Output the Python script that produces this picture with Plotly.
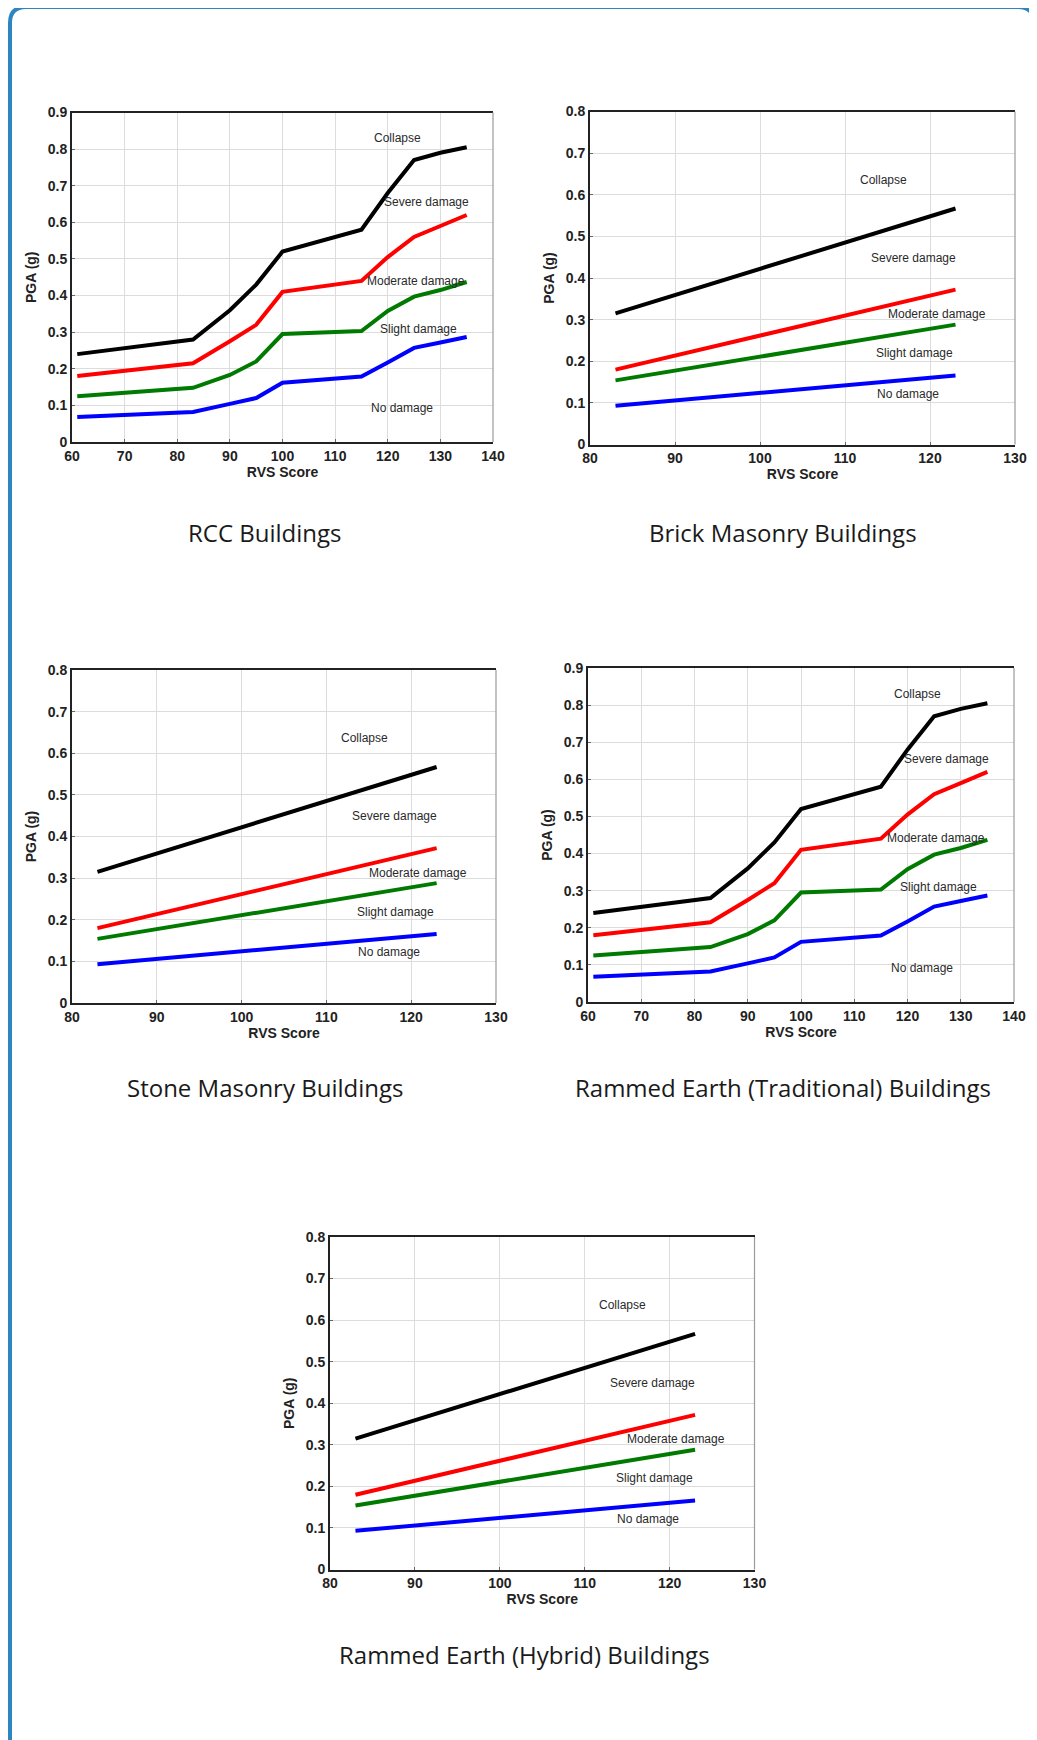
import plotly.graph_objects as go

# The page body has an 8px margin, so the figure is drawn 8px in from the window edge.
WIN_W, WIN_H = 1037, 1740
OFF = 8
W, H = WIN_W - OFF, WIN_H - OFF

# ---------------- data ----------------
# RCC and Rammed Earth (Traditional) buildings
rvs_a = [61, 83, 90, 95, 100, 115, 120, 125, 130, 135]
collapse_a = [0.24, 0.28, 0.36, 0.43, 0.52, 0.58, 0.68, 0.77, 0.79, 0.805]
severe_a = [0.18, 0.215, 0.275, 0.32, 0.41, 0.44, 0.505, 0.56, 0.59, 0.62]
moderate_a = [0.125, 0.148, 0.183, 0.22, 0.295, 0.303, 0.358, 0.397, 0.415, 0.437]
slight_a = [0.068, 0.082, 0.104, 0.12, 0.162, 0.179, 0.217, 0.257, 0.272, 0.287]

# Brick masonry, Stone masonry and Rammed Earth (Hybrid) buildings
rvs_b = [83, 100, 110, 123]
collapse_b = [0.315, 0.422, 0.486, 0.567]
severe_b = [0.18, 0.262, 0.31, 0.372]
moderate_b = [0.154, 0.21, 0.244, 0.288]
slight_b = [0.093, 0.124, 0.142, 0.166]

damage_labels = ["Collapse", "Severe damage", "Moderate damage", "Slight damage", "No damage"]
label_x_a = [121.9, 127.3, 125.4, 125.9, 122.7]
label_y_a = [0.829, 0.655, 0.441, 0.31, 0.092]
label_x_b = [114.5, 118.0, 120.8, 118.2, 117.4]
label_y_b = [0.636, 0.449, 0.313, 0.219, 0.122]

captions = ["RCC Buildings", "Brick Masonry Buildings", "Stone Masonry Buildings",
            "Rammed Earth (Traditional) Buildings", "Rammed Earth (Hybrid) Buildings"]

x_ticks_a = [60, 70, 80, 90, 100, 110, 120, 130, 140]
x_ticks_b = [80, 90, 100, 110, 120, 130]
y_ticks_a = [0, 0.1, 0.2, 0.3, 0.4, 0.5, 0.6, 0.7, 0.8, 0.9]
y_ticks_b = [0, 0.1, 0.2, 0.3, 0.4, 0.5, 0.6, 0.7, 0.8]

x_title = "RVS Score"
y_title = "PGA (g)"

# ---------------- layout helpers ----------------
def px_x(v):
    return (v - OFF) / W

def px_y(v):
    return 1 - (v - OFF) / H

def bold(vals):
    return ["<b>%g</b>" % v for v in vals]

line_colors = ["#000000", "#ff0000", "#007a00", "#0000ff"]

# panel boxes in window pixels: left, right, top, bottom ; caption center
panels = [
    dict(kind="a", box=(72, 493, 112.5, 442), xr=[60, 140], yr=[0, 0.9], cap=(265, 532)),
    dict(kind="b", box=(590, 1015, 111.5, 444.5), xr=[80, 130], yr=[0, 0.8], cap=(783, 532)),
    dict(kind="b", box=(72, 496, 670, 1003), xr=[80, 130], yr=[0, 0.8], cap=(265, 1087)),
    dict(kind="a", box=(588, 1014, 668, 1002), xr=[60, 140], yr=[0, 0.9], cap=(783, 1087)),
    dict(kind="b", box=(330, 754.5, 1237, 1569.5), xr=[80, 130], yr=[0, 0.8], cap=(524, 1654)),
]

fig = go.Figure()
layout = dict(
    width=W, height=H, margin=dict(l=0, r=0, t=0, b=0, pad=0, autoexpand=False),
    paper_bgcolor="white", plot_bgcolor="white", showlegend=False,
    annotations=[], shapes=[],
)

tickfont = dict(family="Liberation Sans, Arial", size=14, color="#222")
titlefont = dict(family="Liberation Sans, Arial", size=14, color="#222")

for i, p in enumerate(panels):
    n = "" if i == 0 else str(i + 1)
    xa, ya = "x" + n, "y" + n
    l, r, t, b = p["box"]
    if p["kind"] == "a":
        xs = rvs_a
        series = [collapse_a, severe_a, moderate_a, slight_a]
        lx, ly = label_x_a, label_y_a
        xt, yt_ = x_ticks_a, y_ticks_a
    else:
        xs = rvs_b
        series = [collapse_b, severe_b, moderate_b, slight_b]
        lx, ly = label_x_b, label_y_b
        xt, yt_ = x_ticks_b, y_ticks_b
    for s, c in zip(series, line_colors):
        fig.add_trace(go.Scatter(x=xs, y=s, mode="lines", xaxis=xa, yaxis=ya,
                                 line=dict(color=c, width=4), hoverinfo="skip"))
    layout["xaxis" + n] = dict(
        domain=[px_x(l), px_x(r)], range=p["xr"], anchor=ya,
        tickmode="array", tickvals=xt, ticktext=bold(xt), automargin=False,
        showgrid=True, gridcolor="#dcdcdc", gridwidth=1, zeroline=False,
        showline=True, linecolor="#222", linewidth=2, mirror=True,
        ticks="inside", ticklen=3, tickcolor="#666",
        tickfont=tickfont, title=dict(text="<b>%s</b>" % x_title, font=titlefont, standoff=3),
    )
    layout["yaxis" + n] = dict(
        domain=[px_y(b), px_y(t)], range=p["yr"], anchor=xa,
        tickmode="array", tickvals=yt_, ticktext=bold(yt_), automargin=False,
        showgrid=True, gridcolor="#dcdcdc", gridwidth=1, zeroline=False,
        showline=True, linecolor="#222", linewidth=2,
        ticks="inside", ticklen=3, tickcolor="#666",
        tickfont=tickfont, title=dict(text="<b>%s</b>" % y_title, font=titlefont, standoff=8),
    )
    # lighter right frame edge
    layout["shapes"].append(dict(type="line", xref="paper", yref="paper",
                                 x0=px_x(r), x1=px_x(r), y0=px_y(b), y1=px_y(t),
                                 line=dict(color="#9a9a9a", width=1.2)))
    for txt, x0, y0 in zip(damage_labels, lx, ly):
        layout["annotations"].append(dict(
            x=x0, y=y0, xref=xa, yref=ya, text=txt, showarrow=False,
            font=dict(family="Liberation Sans, Arial", size=12, color="#2a2a2a"),
            xanchor="center", yanchor="middle"))
    cx, cy = p["cap"]
    layout["annotations"].append(dict(
        x=px_x(cx), y=px_y(cy), xref="paper", yref="paper", text=captions[i],
        showarrow=False, xanchor="center", yanchor="middle",
        font=dict(family="Open Sans, Noto Sans", size=24, color="#1a1a1a")))

# outer blue rounded frame (open at the bottom)
x0, x1, yt, yb, rad = 10, 1034, 7, 1780, 16
rx, ry = rad / W, rad / H
path = (f"M {px_x(x0)},{px_y(yb)} L {px_x(x0)},{px_y(yt) - ry} "
        f"Q {px_x(x0)},{px_y(yt)} {px_x(x0) + rx},{px_y(yt)} "
        f"L {px_x(x1) - rx},{px_y(yt)} "
        f"Q {px_x(x1)},{px_y(yt)} {px_x(x1)},{px_y(yt) - ry} "
        f"L {px_x(x1)},{px_y(yb)}")
layout["shapes"].append(dict(type="path", xref="paper", yref="paper", path=path,
                             line=dict(color="#2e86c1", width=4)))

fig.update_layout(**layout)
fig.write_html("out.html")
